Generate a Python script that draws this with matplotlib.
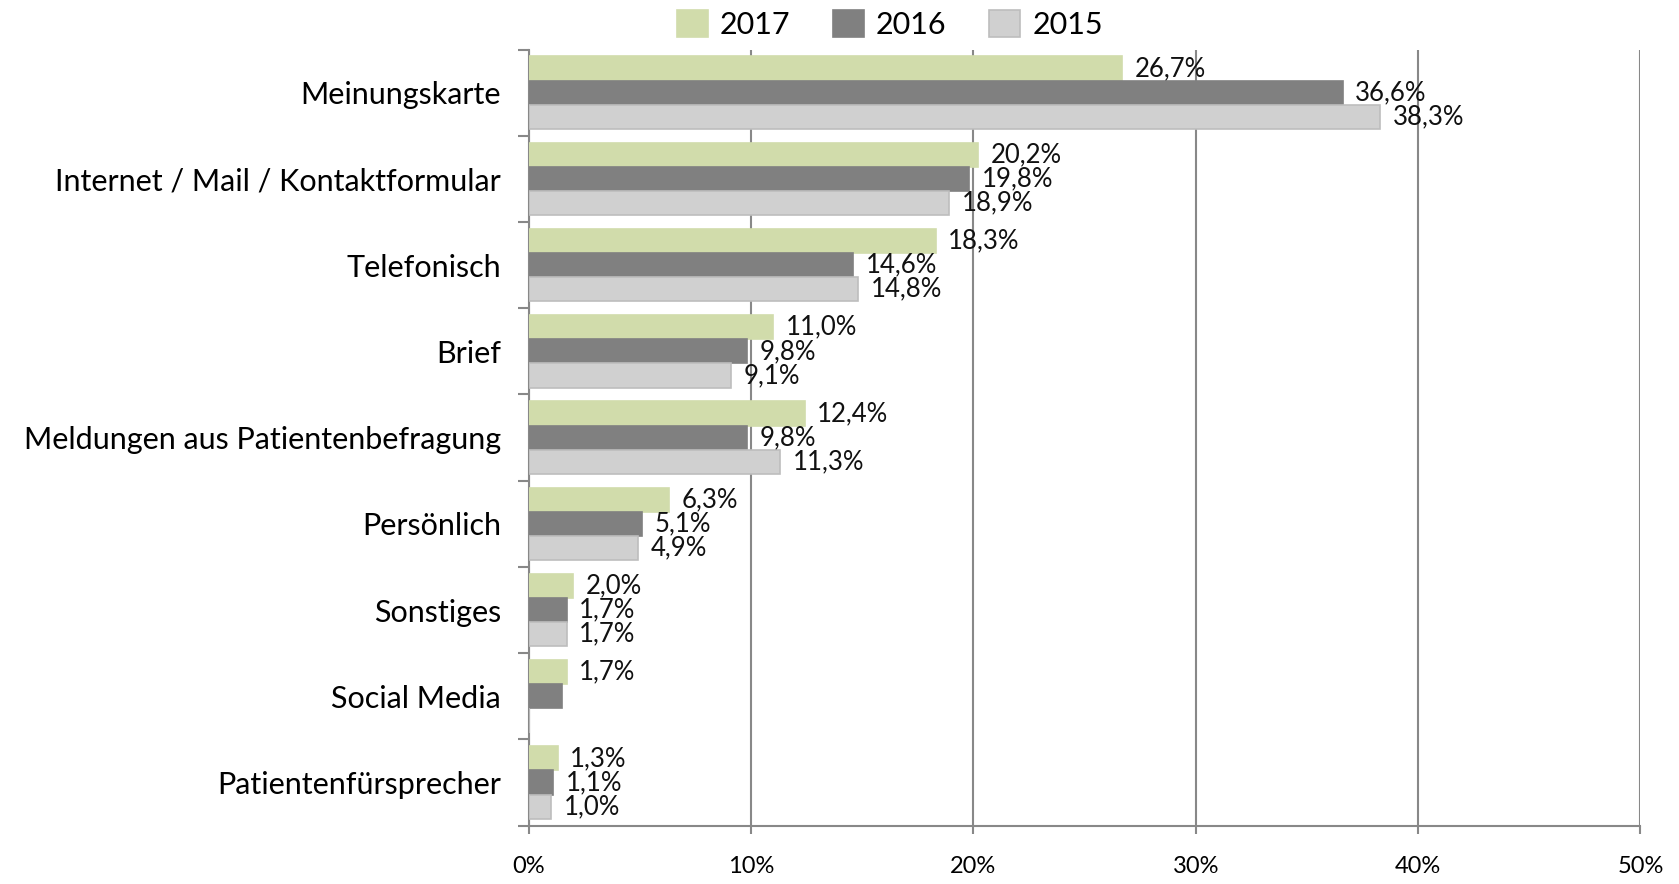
import numpy as np
import matplotlib.pyplot as plt

plt.rcParams['font.family'] = ['Lato', 'DejaVu Sans']

categories = ["Meinungskarte", "Internet / Mail / Kontaktformular", "Telefonisch", "Brief",
              "Meldungen aus Patientenbefragung", "Persönlich", "Sonstiges", "Social Media",
              "Patientenfürsprecher"]
years = ["2017", "2016", "2015"]
v2017 = [26.7, 20.2, 18.3, 11.0, 12.4, 6.3, 2.0, 1.7, 1.3]
v2016 = [36.6, 19.8, 14.6, 9.8, 9.8, 5.1, 1.7, 1.5, 1.1]
v2015 = [38.3, 18.9, 14.8, 9.1, 11.3, 4.9, 1.7, 0.0, 1.0]
# which labels are shown (Social Media 2016/2015 have none)
show2016 = [True] * 7 + [False, True]
show2015 = [True] * 7 + [False, True]

colors = ["#d1dcab", "#808080", "#d0d0d0"]
edges = ["#d1dcab", "#808080", "#bdbdbd"]

fig = plt.figure(figsize=(16.79, 8.84), dpi=100)
ax = fig.add_axes([0.315, 0.066, 0.662, 0.878])

y = np.arange(len(categories))
h = 0.28
series = [v2017, v2016, v2015]
shows = [[True] * 9, show2016, show2015]
for i, (vals, show) in enumerate(zip(series, shows)):
    pos = y + (i - 1) * h
    ax.barh(pos, vals, height=h, color=colors[i], edgecolor=edges[i],
            linewidth=1.2, label=years[i], zorder=3)
    for p, v, s in zip(pos, vals, show):
        if s and v > 0:
            ax.annotate(f"{v:.1f}%".replace(".", ","), (v, p), xytext=(9, 0),
                        textcoords="offset points", va="center", ha="left",
                        fontsize=18.5, color="#111111", zorder=5)

ax.set_ylim(len(categories) - 0.5, -0.5)
ax.set_xlim(0, 50)
ax.set_xticks(np.arange(0, 51, 10))
ax.set_xticklabels([f"{t}%" for t in range(0, 51, 10)], fontsize=17)
ax.set_yticks(y)
ax.set_yticklabels(categories, fontsize=22)
ax.set_yticks(np.arange(-0.5, len(categories)), minor=True)
ax.tick_params(axis="y", which="major", length=0, pad=20)
ax.tick_params(axis="y", which="minor", length=8, color="#888888", width=1.5)
ax.tick_params(axis="x", length=6, color="#888888", width=1.5, pad=16)
ax.grid(axis="x", color="#888888", linewidth=1.5, zorder=0)
for s in ["top", "right"]:
    ax.spines[s].set_visible(False)
for s in ["left", "bottom"]:
    ax.spines[s].set_color("#888888")
    ax.spines[s].set_linewidth(1.5)

fig.legend(loc="upper center", bbox_to_anchor=(0.53, 1.02), ncol=3, frameon=False,
           fontsize=22, handlelength=1.0, handleheight=1.0, columnspacing=1.4,
           handletextpad=0.4)

fig.savefig("out.png", dpi=100)
